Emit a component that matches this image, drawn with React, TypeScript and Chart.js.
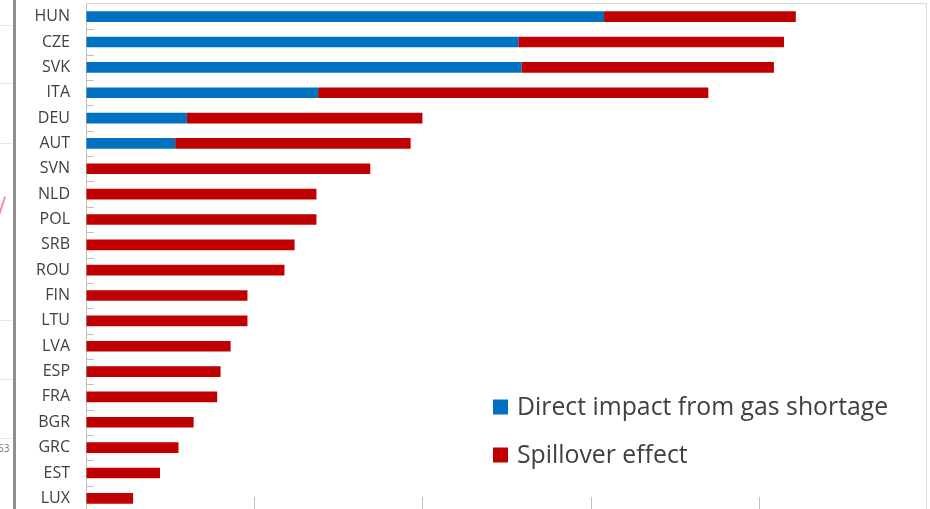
import React, { useEffect, useRef } from "react";
import { Chart, registerables } from "chart.js";

Chart.register(...registerables);

const categories = ["HUN", "CZE", "SVK", "ITA", "DEU", "AUT", "SVN", "NLD", "POL", "SRB", "ROU", "FIN", "LTU", "LVA", "ESP", "FRA", "BGR", "GRC", "EST", "LUX"];
const directImpact = [3.08, 2.57, 2.59, 1.38, 0.6, 0.53, 0, 0, 0, 0, 0, 0, 0, 0, 0, 0, 0, 0, 0, 0];
const spilloverEffect = [1.14, 1.58, 1.5, 2.32, 1.4, 1.4, 1.69, 1.37, 1.37, 1.24, 1.18, 0.96, 0.96, 0.86, 0.8, 0.78, 0.64, 0.55, 0.44, 0.28];
const seriesLabels = ["Direct impact from gas shortage", "Spillover effect"];
const xMin = 0;
const xMax = 5;
const xStep = 1;

const FONT = "'Open Sans', 'Noto Sans', sans-serif";
const CANVAS_W = 930;
const CANVAS_H = 540;
const PLOT_BOTTOM = 511;

const decorPlugin = {
  id: "decor",
  beforeDatasetsDraw(chart: any) {
    const { ctx, chartArea } = chart;
    ctx.save();
    ctx.strokeStyle = "#d9d9d9";
    ctx.lineWidth = 1;
    ctx.beginPath();
    ctx.moveTo(chartArea.left, chartArea.top - 0.5);
    ctx.lineTo(chartArea.right - 0.5, chartArea.top - 0.5);
    ctx.lineTo(chartArea.right - 0.5, chartArea.bottom);
    ctx.stroke();
    ctx.restore();
  },
  afterDatasetsDraw(chart: any) {
    const { ctx, chartArea, scales } = chart;
    const y = scales.y;
    const x = scales.x;
    ctx.save();
    ctx.strokeStyle = "#bfbfbf";
    ctx.lineWidth = 1;
    ctx.beginPath();
    const n = chart.data.labels.length;
    for (let i = 0; i < n - 1; i++) {
      const p = (y.getPixelForValue(i) + y.getPixelForValue(i + 1)) / 2;
      const py = Math.round(p) + 0.5;
      ctx.moveTo(chartArea.left, py);
      ctx.lineTo(chartArea.left + 8, py);
    }
    for (let v = xMin + xStep; v < xMax; v += xStep) {
      const px = Math.round(x.getPixelForValue(v)) + 0.5;
      ctx.moveTo(px, chartArea.bottom);
      ctx.lineTo(px, chartArea.bottom - 14);
    }
    ctx.stroke();
    ctx.restore();
  },
  afterDraw(chart: any) {
    const { ctx } = chart;
    const items = chart.data.datasets;
    const startX = 493;
    const startY = 407;
    const rowGap = 48;
    const box = 15;
    ctx.save();
    ctx.font = `24.8px ${FONT}`;
    ctx.textBaseline = "middle";
    ctx.textAlign = "left";
    items.forEach((ds: any, i: number) => {
      const cy = startY + i * rowGap;
      ctx.fillStyle = ds.backgroundColor;
      ctx.fillRect(startX, cy - box / 2, box, box);
      ctx.fillStyle = "#404040";
      ctx.fillText(ds.label, startX + box + 9, cy + 1);
    });
    ctx.restore();
  },
};

export default function App() {
  const ref = useRef<HTMLCanvasElement | null>(null);

  useEffect(() => {
    if (!ref.current) return;
    const chart = new Chart(ref.current, {
      type: "bar",
      data: {
        labels: categories,
        datasets: [
          {
            label: seriesLabels[0],
            data: directImpact,
            backgroundColor: "#0070C0",
            borderWidth: 0,
            barPercentage: 0.42,
            categoryPercentage: 1,
          },
          {
            label: seriesLabels[1],
            data: spilloverEffect,
            backgroundColor: "#C00000",
            borderWidth: 0,
            barPercentage: 0.42,
            categoryPercentage: 1,
          },
        ],
      },
      options: {
        indexAxis: "y",
        animation: false,
        responsive: false,
        maintainAspectRatio: false,
        devicePixelRatio: 1,
        layout: { padding: { top: 4, right: 3, left: 0, bottom: 0 } },
        plugins: {
          legend: { display: false },
          tooltip: { enabled: false },
        },
        scales: {
          x: {
            stacked: true,
            min: xMin,
            max: xMax,
            ticks: { display: false, stepSize: xStep },
            grid: { drawOnChartArea: false, drawTicks: false },
            border: { color: "#bfbfbf", width: 1 },
            afterFit: (scale: any) => {
              scale.height = CANVAS_H - PLOT_BOTTOM;
              scale.paddingLeft = 0;
              scale.paddingRight = 0;
            },
          },
          y: {
            stacked: true,
            offset: true,
            ticks: {
              autoSkip: false,
              color: "#404040",
              font: { family: FONT, size: 16 },
              padding: 16,
            },
            grid: { drawOnChartArea: false, drawTicks: false },
            border: { color: "#bfbfbf", width: 1 },
            afterFit: (scale: any) => {
              scale.width = 86;
              scale.paddingTop = 0;
              scale.paddingBottom = 0;
            },
          },
        },
      },
      plugins: [decorPlugin],
    });
    return () => chart.destroy();
  }, []);

  const faintLines = [25, 83, 143, 320, 379, 438];

  return (
    <div
      style={{
        position: "fixed",
        left: 0,
        top: 0,
        width: CANVAS_W,
        height: 509,
        overflow: "hidden",
        background: "#ffffff",
      }}
    >
      {faintLines.map((t) => (
        <div key={t} style={{ position: "absolute", left: 0, top: t, width: 12, height: 1, background: "#e6e6e6" }} />
      ))}
      <div
        style={{
          position: "absolute",
          left: 1,
          top: 196,
          width: 2,
          height: 20,
          background: "#f28cb0",
          transform: "rotate(18deg)",
        }}
      />
      <div
        style={{
          position: "absolute",
          left: -2,
          top: 441,
          fontFamily: FONT,
          fontSize: 10,
          color: "#777",
        }}
      >
        53
      </div>
      <div style={{ position: "absolute", left: 13, top: 0, width: 3, height: 509, background: "#8f8f8f" }} />
      <canvas
        ref={ref}
        width={CANVAS_W}
        height={CANVAS_H}
        style={{ position: "absolute", left: 0, top: 0, width: CANVAS_W, height: CANVAS_H }}
      />
    </div>
  );
}
